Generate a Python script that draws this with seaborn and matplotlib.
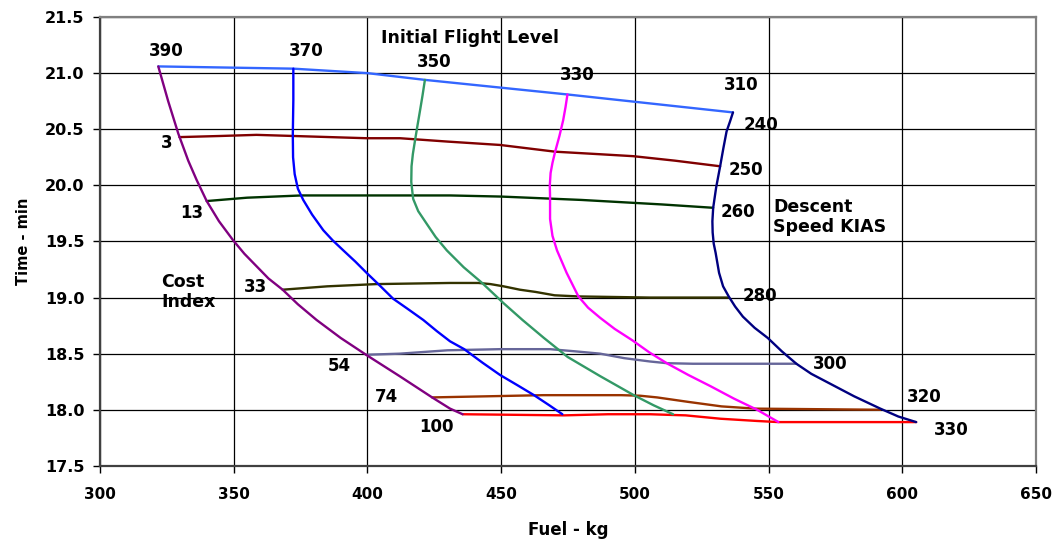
import matplotlib
matplotlib.use("Agg")
import matplotlib.pyplot as plt
import seaborn as sns

# ---- Initial flight level curves (fuel kg, time min)
fl390_fuel = [321.8, 325.5, 329.3, 333.0, 336.1, 339.9, 344.5, 349.8, 354.0, 358.5, 363.0, 368.3,
              374.0, 381.0, 390.0, 399.5, 412.0, 424.2, 430.9, 435.6]
fl390_time = [21.06, 20.75, 20.46, 20.22, 20.05, 19.86, 19.68, 19.51, 19.39, 19.28, 19.17, 19.07,
              18.94, 18.80, 18.64, 18.49, 18.30, 18.11, 18.01, 17.96]
fl370_fuel = [372.3, 372.3, 372.1, 372.2, 372.8, 374.0, 376.0, 379.3, 383.5, 387.0, 391.0, 395.5,
              399.7, 404.5, 409.6, 415.0, 420.9, 426.0, 430.9, 436.2, 443.0, 449.6, 456.0, 462.3,
              468.0, 472.9]
fl370_time = [21.04, 20.76, 20.45, 20.25, 20.10, 19.97, 19.87, 19.74, 19.60, 19.51, 19.42, 19.32,
              19.22, 19.11, 18.99, 18.90, 18.80, 18.70, 18.61, 18.54, 18.42, 18.31, 18.22, 18.13,
              18.04, 17.96]
fl350_fuel = [421.5, 420.6, 419.7, 418.7, 417.8, 417.0, 416.5, 416.4, 417.1, 419.0, 422.1, 425.5,
              429.7, 436.0, 442.9, 450.9, 458.0, 466.0, 474.9, 487.0, 499.6, 507.0, 514.3]
fl350_time = [20.94, 20.80, 20.67, 20.53, 20.40, 20.28, 20.17, 20.03, 19.88, 19.77, 19.66, 19.54,
              19.42, 19.27, 19.13, 18.95, 18.80, 18.64, 18.47, 18.30, 18.13, 18.04, 17.96]
fl330_fuel = [474.8, 474.1, 473.2, 471.8, 470.2, 469.2, 468.5, 468.2, 468.3, 468.3, 469.2, 470.9,
              474.5, 478.9, 482.5, 487.0, 492.5, 499.0, 505.5, 512.3, 520.0, 528.3, 537.0, 545.7,
              553.7]
fl330_time = [20.81, 20.70, 20.58, 20.44, 20.30, 20.20, 20.11, 20.00, 19.90, 19.70, 19.55, 19.42,
              19.22, 19.01, 18.91, 18.82, 18.72, 18.62, 18.51, 18.41, 18.31, 18.21, 18.10, 18.00,
              17.89]
fl310_fuel = [536.7, 535.6, 534.3, 533.1, 531.9, 530.4, 529.3, 529.0, 529.1, 529.5, 530.2, 531.5,
              533.0, 535.1, 537.5, 540.4, 544.8, 549.7, 555.0, 560.4, 566.0, 572.4, 582.0, 591.8,
              598.5, 605.2]
fl310_time = [20.65, 20.57, 20.48, 20.33, 20.17, 19.98, 19.80, 19.68, 19.58, 19.48, 19.40, 19.22,
              19.10, 19.01, 18.92, 18.83, 18.73, 18.64, 18.52, 18.41, 18.32, 18.24, 18.12, 18.01,
              17.94, 17.89]

# ---- Cost index curves
ci0_fuel = [321.8, 372.3, 400.1, 421.5, 474.8, 536.7]
ci0_time = [21.06, 21.04, 21.00, 20.94, 20.81, 20.65]
ci3_fuel = [329.7, 345.0, 358.5, 372.3, 399.7, 412.2, 430.0, 449.6, 470.2, 485.0, 499.4, 515.0, 531.9]
ci3_time = [20.43, 20.44, 20.45, 20.44, 20.42, 20.42, 20.39, 20.36, 20.30, 20.28, 20.26, 20.22, 20.17]
ci13_fuel = [339.9, 355.0, 375.4, 399.7, 430.9, 450.0, 480.0, 510.0, 529.3]
ci13_time = [19.86, 19.89, 19.91, 19.91, 19.91, 19.90, 19.87, 19.83, 19.80]
ci33_fuel = [368.3, 385.0, 403.4, 430.9, 441.5, 446.0, 450.9, 457.0, 462.9, 470.0, 478.9, 505.6, 535.0]
ci33_time = [19.07, 19.10, 19.12, 19.13, 19.13, 19.12, 19.10, 19.07, 19.05, 19.02, 19.01, 19.00, 19.00]
ci54_fuel = [399.5, 412.2, 430.0, 449.6, 468.3, 478.0, 487.0, 496.0, 505.7, 512.0, 521.7, 560.4]
ci54_time = [18.49, 18.50, 18.53, 18.54, 18.54, 18.52, 18.50, 18.46, 18.43, 18.415, 18.41, 18.41]
ci74_fuel = [424.2, 445.0, 465.7, 494.9, 502.0, 508.3, 520.0, 532.4, 545.0, 591.8]
ci74_time = [18.11, 18.12, 18.13, 18.13, 18.125, 18.11, 18.07, 18.03, 18.01, 18.00]
ci100_fuel = [435.6, 473.6, 490.0, 505.7, 512.0, 519.0, 532.0, 545.7, 553.7, 605.2]
ci100_time = [17.96, 17.95, 17.96, 17.96, 17.955, 17.95, 17.92, 17.90, 17.89, 17.89]

flight_levels = ["390", "370", "350", "330", "310"]
cost_indices = ["3", "13", "33", "54", "74", "100"]
descent_speeds = ["240", "250", "260", "280", "300", "320", "330"]

sns.set_style("white")
plt.rcParams['font.family'] = ['DejaVu Sans']
plt.rcParams['text.color'] = 'black'
plt.rcParams['axes.labelcolor'] = 'black'
plt.rcParams['xtick.color'] = 'black'
plt.rcParams['ytick.color'] = 'black'

fig = plt.figure(figsize=(10.57, 5.5), dpi=100)
ax = fig.add_axes([0.0946, 0.153, 0.8855, 0.816])

ci_curves = [
    (ci0_fuel, ci0_time, "#3366FF"),
    (ci3_fuel, ci3_time, "#800000"),
    (ci13_fuel, ci13_time, "#003300"),
    (ci33_fuel, ci33_time, "#333300"),
    (ci54_fuel, ci54_time, "#666699"),
    (ci74_fuel, ci74_time, "#993300"),
    (ci100_fuel, ci100_time, "#FF0000"),
]
fl_curves = [
    (fl390_fuel, fl390_time, "#800080"),
    (fl370_fuel, fl370_time, "#0000FF"),
    (fl350_fuel, fl350_time, "#339966"),
    (fl330_fuel, fl330_time, "#FF00FF"),
    (fl310_fuel, fl310_time, "#000080"),
]
for xs, ys, c in ci_curves + fl_curves:
    sns.lineplot(x=xs, y=ys, sort=False, estimator=None, color=c, lw=1.7, ax=ax)

ax.set_xlim(300, 650)
ax.set_ylim(17.5, 21.5)
ax.set_xticks(range(300, 651, 50))
ax.set_yticks([17.5 + 0.5 * i for i in range(9)])
ax.set_yticklabels(["%.1f" % (17.5 + 0.5 * i) for i in range(9)])
ax.grid(True, color="black", lw=0.9)
ax.set_axisbelow(True)
for s in ax.spines.values():
    s.set_color("#808080")
    s.set_linewidth(1.6)
ax.spines["left"].set_color("#404040")
ax.spines["bottom"].set_color("#404040")
ax.tick_params(axis="y", direction="out", length=5, width=1, labelsize=11.5, pad=6, left=True)
ax.tick_params(axis="x", direction="out", length=5, width=1, labelsize=11, pad=10, bottom=True)
for lab in ax.get_xticklabels() + ax.get_yticklabels():
    lab.set_fontweight("bold")
ax.set_xlabel("Fuel - kg", fontsize=12, fontweight="bold", labelpad=14)
ax.set_ylabel("Time - min", fontsize=10.5, fontweight="bold", labelpad=10)

tk = dict(fontsize=12, fontweight="bold", ha="center", va="center")
fl_pos = [(324.7, 21.20), (377.0, 21.20), (424.9, 21.10), (478.4, 20.98), (539.7, 20.89)]
for t, (x, y) in zip(flight_levels, fl_pos):
    ax.text(x, y, t, **tk)
ci_pos = [(325.1, 20.38), (334.4, 19.75), (358.0, 19.09), (389.4, 18.39), (407.0, 18.11), (425.7, 17.85)]
for t, (x, y) in zip(cost_indices, ci_pos):
    ax.text(x, y, t, **tk)
sp_pos = [(547.2, 20.54), (541.6, 20.14), (538.6, 19.76), (546.8, 19.01), (573.0, 18.41), (608.1, 18.11), (618.2, 17.82)]
for t, (x, y) in zip(descent_speeds, sp_pos):
    ax.text(x, y, t, **tk)

ax.text(438.4, 21.31, "Initial Flight Level", fontsize=12.5, fontweight="bold", ha="center", va="center")
ax.text(551.7, 19.715, "Descent\nSpeed KIAS", fontsize=12.5, fontweight="bold",
        ha="left", va="center", linespacing=1.15)
ax.text(322.8, 19.05, "Cost\nIndex", fontsize=12.5, fontweight="bold",
        ha="left", va="center", linespacing=1.15)

fig.savefig("out.png", dpi=100)
